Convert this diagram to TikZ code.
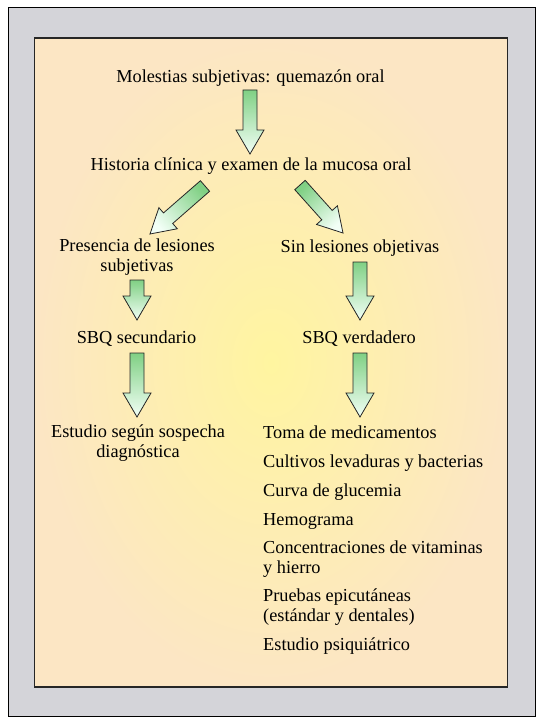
\documentclass[tikz,border=0pt]{standalone}
\usepackage{fontspec}
\setmainfont{Liberation Serif}
\usetikzlibrary{calc}
\definecolor{framegray}{RGB}{212,212,217}
\definecolor{bgyellow}{RGB}{255,245,160}
\definecolor{bgpink}{RGB}{252,230,196}
\definecolor{argreen}{RGB}{128,208,132}
\definecolor{arlight}{RGB}{242,255,246}
\tikzset{
  lbl/.style={inner sep=0pt, font=\fontsize{18.3}{19.5}\selectfont, text=black},
  barrow/.style={draw=black!85, line width=0.8pt, line join=miter, top color=argreen, bottom color=arlight},
}
\newcommand\blockarrow[2]{%
  \pgfpointanchor{#1}{center}\pgfgetlastxy{\bax}{\bay}%
  \pgfpointanchor{#2}{center}\pgfgetlastxy{\bbx}{\bby}%
  \pgfmathsetmacro\baang{atan2(\bby-\bay,\bbx-\bax)}%
  \pgfmathsetmacro\balen{veclen(\bbx-\bax,\bby-\bay)}%
  \pgfmathsetmacro\bahl{\balen-24}%
  \pgfmathsetmacro\bashade{\baang+90}%
  \draw[barrow, shading angle=\bashade]
    ($(#1)+(\baang+90:7)$) -- ($(#1)+(\baang:\bahl)+(\baang+90:7)$)
    -- ($(#1)+(\baang:\bahl)+(\baang+90:14)$) -- (#2)
    -- ($(#1)+(\baang:\bahl)+(\baang-90:14)$) -- ($(#1)+(\baang:\bahl)+(\baang-90:7)$)
    -- ($(#1)+(\baang-90:7)$) -- cycle;}
\begin{document}
\begin{tikzpicture}[x=1pt,y=1pt]
\useasboundingbox (0,0) rectangle (545,-722);
% frames
\draw[fill=framegray, line width=1pt] (8,-8) rectangle (535.5,-716);
\draw[inner color=bgyellow, outer color=bgpink, draw=black!85, line width=1.3pt] (34.5,-38) rectangle (507.5,-687);
% texts (multi-line nodes: base = last line)
\node[lbl, anchor=base] (t1) at (250.5,-83) {Molestias subjetivas: quemazón oral};
\node[lbl, anchor=base] (t2) at (251,-171) {Historia clínica y examen de la mucosa oral};
\node[lbl, anchor=base, align=center] (t3) at (137,-271) {Presencia de lesiones\\subjetivas};
\node[lbl, anchor=base] (t4) at (360,-252) {Sin lesiones objetivas};
\node[lbl, anchor=base] (t5) at (136.5,-343) {SBQ secundario};
\node[lbl, anchor=base] (t6) at (359,-343) {SBQ verdadero};
\node[lbl, anchor=base, align=center] (t7) at (138,-457) {Estudio según sospecha\\diagnóstica};
\node[lbl, anchor=base west] (r1) at (263,-438) {Toma de medicamentos};
\node[lbl, anchor=base west] (r2) at (263,-467) {Cultivos levaduras y bacterias};
\node[lbl, anchor=base west] (r3) at (263,-496) {Curva de glucemia};
\node[lbl, anchor=base west] (r4) at (263,-525) {Hemograma};
\node[lbl, anchor=base west, align=left] (r5) at (263,-573) {Concentraciones de vitaminas\\y hierro};
\node[lbl, anchor=base west, align=left] (r6) at (263,-621) {Pruebas epicutáneas\\(estándar y dentales)};
\node[lbl, anchor=base west] (r7) at (263,-650) {Estudio psiquiátrico};
% arrow ends
\coordinate (a1s) at (250,-90);  \coordinate (a1e) at (250,-154);
\coordinate (a2s) at (205,-186); \coordinate (a2e) at (150,-234);
\coordinate (a3s) at (300,-185); \coordinate (a3e) at (343,-233);
\coordinate (a4s) at (137,-280); \coordinate (a4e) at (137,-320);
\coordinate (a5s) at (360,-262); \coordinate (a5e) at (360,-320);
\coordinate (a6s) at (137,-353); \coordinate (a6e) at (137,-417);
\coordinate (a7s) at (360,-353); \coordinate (a7e) at (360,-417);
\blockarrow{a1s}{a1e}
\blockarrow{a2s}{a2e}
\blockarrow{a3s}{a3e}
\blockarrow{a4s}{a4e}
\blockarrow{a5s}{a5e}
\blockarrow{a6s}{a6e}
\blockarrow{a7s}{a7e}
\end{tikzpicture}
\end{document}
